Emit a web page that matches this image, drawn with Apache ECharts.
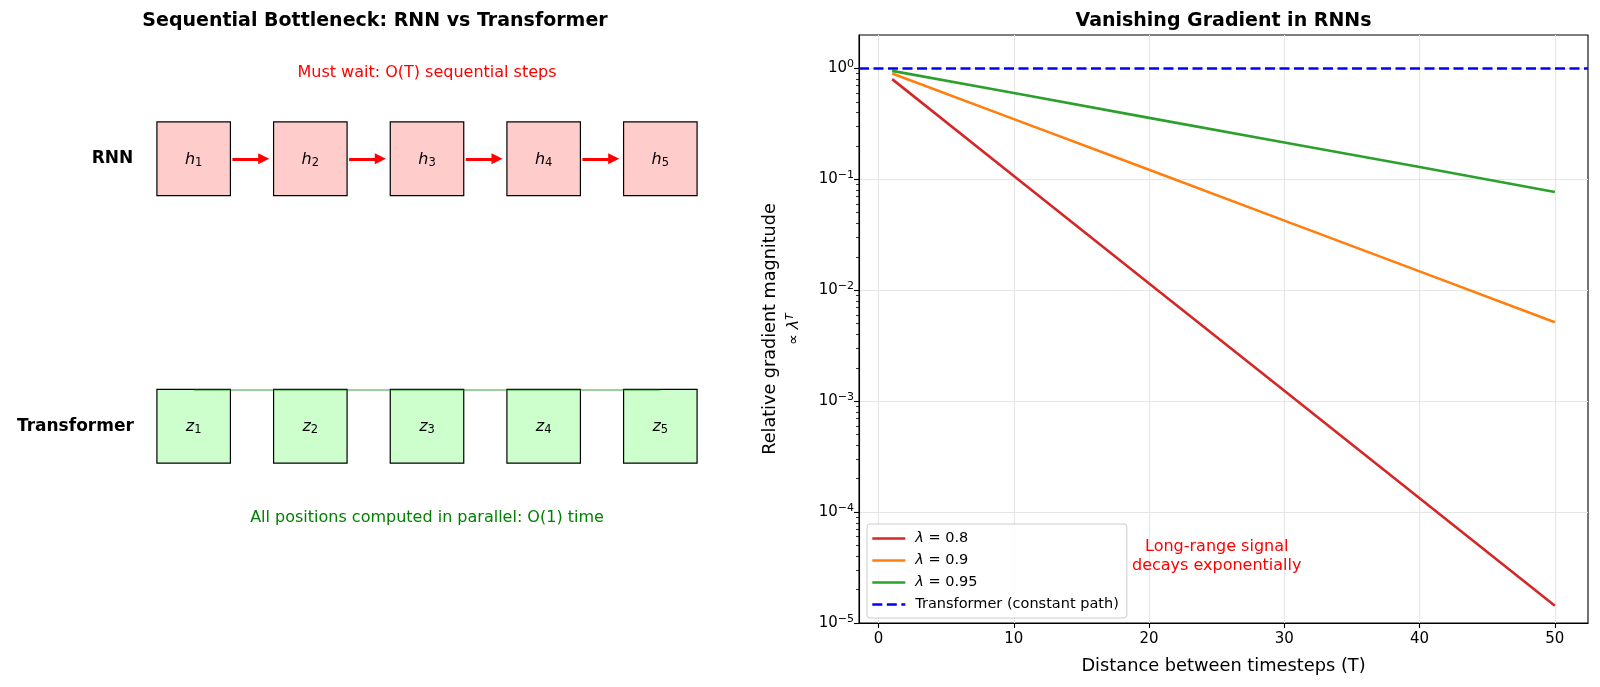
<!DOCTYPE html>
<html>
<head>
<meta charset="utf-8">
<title>RNN vs Transformer</title>
<script src="https://cdn.jsdelivr.net/npm/echarts@6/dist/echarts.min.js"></script>
<style>
  html, body { margin: 0; padding: 0; background: #fff; }
  #chart { width: 1600px; height: 687px; }
</style>
</head>
<body>
<div id="chart"></div>
<script>
// ---- left panel: diagram ----
var steps = [1, 2, 3, 4, 5];
var rowNames = ['RNN', 'Transformer'];
var rowSymbols = ['h', 'z'];
var topCaption = 'Must wait: O(T) sequential steps';
var bottomCaption = 'All positions computed in parallel: O(1) time';

// ---- right panel: gradient decay ----
var distances = [1, 10, 20, 30, 40, 50];
var grad08 = [0.8, 0.107, 0.0115, 0.00124, 0.000133, 0.0000143];
var grad09 = [0.9, 0.349, 0.122, 0.0424, 0.0148, 0.00515];
var grad095 = [0.95, 0.599, 0.358, 0.215, 0.129, 0.0769];
var transformerLevel = 1;
var seriesNames = ['λ = 0.8', 'λ = 0.9', 'λ = 0.95', 'Transformer (constant path)'];

var xTicks = [0, 10, 20, 30, 40, 50];
var yTicks = [1e-5, 1e-4, 1e-3, 1e-2, 1e-1, 1];
var yTickExp = ['−5', '−4', '−3', '−2', '−1', '0'];

var noteText = 'Long-range signal\ndecays exponentially';
var noteAt = [25, 4e-5];

var FONT = 'DejaVu Sans';

function pairs(xs, ys) {
  return xs.map(function (x, i) { return [x, ys[i]]; });
}

// minor ticks of the log axis
var yMinor = [];
for (var e = -5; e <= 0; e++) {
  for (var k = 2; k <= 9; k++) {
    var v = k * Math.pow(10, e);
    if (v < 2) yMinor.push(v);
  }
}

// boxes: [step, rowY, rowIndex]
var boxData = [];
rowNames.forEach(function (r, ri) {
  steps.forEach(function (s) { boxData.push([s, rowNames.length - 1 - ri, ri]); });
});

var arrowData = [];
for (var i = 0; i < steps.length - 1; i++) {
  arrowData.push({ coords: [[steps[i] + 0.332, 1], [steps[i + 1] - 0.40, 1]] });
}

function renderBox(params, api) {
  var step = api.value(0), y = api.value(1), ri = api.value(2);
  var c = api.coord([step, y]);
  var s = api.size([0.63, 0.275]);
  return {
    type: 'group',
    children: [{
      type: 'rect',
      shape: { x: c[0] - s[0] / 2, y: c[1] - s[1] / 2, width: s[0], height: s[1] },
      style: { fill: ri === 0 ? '#ffcccc' : '#ccffcc', stroke: '#000', lineWidth: 1.2 }
    }, {
      type: 'text',
      x: c[0], y: c[1] + 1,
      style: {
        text: '{v|' + rowSymbols[ri] + '}{s|' + step + '}',
        align: 'center', verticalAlign: 'middle',
        rich: {
          v: { fontSize: 16, fontStyle: 'italic', fontFamily: FONT, fill: '#000' },
          s: { fontSize: 11.5, fontFamily: FONT, fill: '#000', padding: [6, 0, 0, 0] }
        }
      }
    }]
  };
}

var chart = echarts.init(document.getElementById('chart'));
var lineDash = [10, 4.5];
var plainLabel = { textBorderWidth: 0, textBorderColor: 'transparent', textShadowBlur: 0, opacity: 1 };

function textLabel(extra) {
  return Object.assign({}, plainLabel, extra);
}

chart.setOption({
  animation: false,
  textStyle: { fontFamily: FONT },
  graphic: [
    { type: 'text', x: 375, y: 21.5, style: { text: 'Sequential Bottleneck: RNN vs Transformer', align: 'center', verticalAlign: 'middle', font: 'bold 19px "DejaVu Sans"', fill: '#000' } },
    { type: 'text', x: 1223.5, y: 21.5, style: { text: 'Vanishing Gradient in RNNs', align: 'center', verticalAlign: 'middle', font: 'bold 19px "DejaVu Sans"', fill: '#000' } }
  ],
  legend: {
    data: seriesNames,
    orient: 'vertical',
    left: 867, top: 524,
    itemWidth: 33, itemHeight: 14, itemGap: 7,
    padding: [7, 8, 6, 4],
    borderColor: '#cccccc', borderWidth: 1, borderRadius: 3,
    backgroundColor: 'rgba(255,255,255,0.8)',
    selectedMode: false,
    itemStyle: { opacity: 0 },
    lineStyle: { width: 2.6 },
    formatter: function (name) {
      if (name.charAt(0) === 'λ') return '{i|λ}{n|' + name.slice(1) + '}';
      return '{f|' + name + '}';
    },
    textStyle: {
      fontSize: 14.5, color: '#000', fontFamily: FONT,
      rich: {
        i: { fontSize: 14.5, fontStyle: 'italic', fontFamily: FONT, color: '#000', padding: [0, 0, 0, 5] },
        n: { fontSize: 14.5, fontFamily: FONT, color: '#000' },
        f: { fontSize: 14.5, fontFamily: FONT, color: '#000', padding: [0, 0, 0, 5] }
      }
    }
  },
  grid: [
    { left: 859, top: 35, width: 729, height: 588, show: true, borderColor: '#000', borderWidth: 1.1, backgroundColor: '#fff', outerBoundsMode: 'none' },
    { left: 77, top: 25, width: 700, height: 535, outerBoundsMode: 'none' }
  ],
  xAxis: [{
    gridIndex: 0, type: 'value', min: -1.45, max: 52.45,
    axisLine: { onZero: false, lineStyle: { color: '#000', width: 1.1 } },
    axisTick: { customValues: xTicks, length: 5, lineStyle: { color: '#000', width: 1.1 } },
    axisLabel: { customValues: xTicks, margin: 9, fontSize: 15, color: '#000', fontFamily: FONT },
    splitLine: { show: true, lineStyle: { color: '#e6e6e6', width: 1.1 } },
    name: 'Distance between timesteps (T)', nameLocation: 'middle', nameGap: 34,
    nameTextStyle: { fontSize: 17.8, color: '#000', fontFamily: FONT }
  }, {
    gridIndex: 1, type: 'value', min: 0, max: 6, show: false
  }],
  yAxis: [{
    gridIndex: 0, type: 'log', logBase: 10, min: 1e-5, max: 2,
    axisLine: { show: true, onZero: false, lineStyle: { color: '#000', width: 1.1 } },
    axisTick: { show: true, customValues: yTicks, length: 5, lineStyle: { color: '#000', width: 1.1 } },
    axisLabel: {
      customValues: yTicks, margin: 5, color: '#000',
      formatter: function (val) {
        var idx = yTicks.findIndex(function (t) { return Math.abs(Math.log10(t) - Math.log10(val)) < 1e-6; });
        return idx < 0 ? '' : '{b|10}{e|' + yTickExp[idx] + '}';
      },
      rich: {
        b: { fontSize: 15, fontFamily: FONT, color: '#000' },
        e: { fontSize: 11, fontFamily: FONT, color: '#000', padding: [0, 0, 8, 0] }
      }
    },
    splitLine: { show: true, lineStyle: { color: '#e6e6e6', width: 1.1 } },
    name: '{a|Relative gradient magnitude}\n{b|∝ }{i|λ}{t|T}',
    nameLocation: 'middle', nameRotate: 90, nameGap: 53,
    nameTextStyle: {
      rich: {
        a: { fontSize: 17.6, lineHeight: 24, fontFamily: FONT, color: '#000' },
        b: { fontSize: 15, lineHeight: 24, fontFamily: FONT, color: '#000' },
        i: { fontSize: 16, lineHeight: 24, fontStyle: 'italic', fontFamily: FONT, color: '#000' },
        t: { fontSize: 11, fontStyle: 'italic', fontFamily: FONT, color: '#000', padding: [0, 0, 8, 0] }
      }
    }
  }, {
    gridIndex: 0, type: 'log', logBase: 10, min: 1e-5, max: 2,
    position: 'left',
    axisLine: { show: false, onZero: false },
    axisTick: { show: true, customValues: yMinor, length: 3, lineStyle: { color: '#000', width: 0.8 } },
    axisLabel: { show: false },
    splitLine: { show: false }
  }, {
    gridIndex: 1, type: 'value', min: -0.5, max: 1.5, show: false
  }],
  series: [{
    name: seriesNames[0], type: 'line', data: pairs(distances, grad08), symbol: 'none',
    lineStyle: { color: '#d62728', width: 2.6 }, itemStyle: { color: '#d62728' }, z: 3
  }, {
    name: seriesNames[1], type: 'line', data: pairs(distances, grad09), symbol: 'none',
    lineStyle: { color: '#ff7f0e', width: 2.6 }, itemStyle: { color: '#ff7f0e' }, z: 3
  }, {
    name: seriesNames[2], type: 'line', data: pairs(distances, grad095), symbol: 'none',
    lineStyle: { color: '#2ca02c', width: 2.6 }, itemStyle: { color: '#2ca02c' }, z: 3
  }, {
    name: seriesNames[3], type: 'line', data: [], symbol: 'none',
    lineStyle: { color: '#0000ff', width: 2.6, type: lineDash }, itemStyle: { color: '#0000ff' }, z: 4,
    markLine: {
      silent: true, symbol: 'none', label: { show: false },
      lineStyle: { color: '#0000ff', width: 2.6, type: lineDash },
      data: [{ yAxis: transformerLevel }]
    }
  }, {
    type: 'scatter', data: [noteAt], symbolSize: 0, silent: true, z: 5,
    itemStyle: { opacity: 1 },
    label: textLabel({ show: true, position: 'inside', formatter: noteText, color: '#ff0000', fontSize: 16, lineHeight: 19, align: 'center', verticalAlign: 'middle', fontFamily: FONT })
  }, {
    type: 'custom', xAxisIndex: 1, yAxisIndex: 2, data: boxData, renderItem: renderBox, silent: true, z: 2
  }, {
    type: 'lines', coordinateSystem: 'cartesian2d', xAxisIndex: 1, yAxisIndex: 2,
    data: arrowData, symbol: ['none', 'triangle'], symbolSize: 11, silent: true, z: 3,
    lineStyle: { color: '#ff0000', width: 3, opacity: 1 }
  }, {
    type: 'lines', coordinateSystem: 'cartesian2d', xAxisIndex: 1, yAxisIndex: 2,
    data: [{ coords: [[steps[0], 0.1375], [steps[steps.length - 1], 0.1375]] }],
    symbol: 'none', silent: true, z: 4,
    lineStyle: { color: 'rgba(0,128,0,0.5)', width: 1.5, opacity: 1 }
  }, {
    type: 'scatter', xAxisIndex: 1, yAxisIndex: 2, symbolSize: 0, silent: true, z: 5,
    itemStyle: { opacity: 1 },
    label: textLabel({ show: true, position: 'inside', fontFamily: FONT }),
    data: [
      { value: [0.482, 1], label: textLabel({ formatter: rowNames[0], align: 'right', fontWeight: 'bold', fontSize: 17, color: '#000' }) },
      { value: [0.487, 0], label: textLabel({ formatter: rowNames[1], align: 'right', fontWeight: 'bold', fontSize: 17, color: '#000' }) },
      { value: [3, 1.32], label: textLabel({ formatter: topCaption, align: 'center', fontSize: 16, color: '#ff0000' }) },
      { value: [3, -0.343], label: textLabel({ formatter: bottomCaption, align: 'center', fontSize: 16, color: '#008000' }) }
    ]
  }]
});
</script>
</body>
</html>
